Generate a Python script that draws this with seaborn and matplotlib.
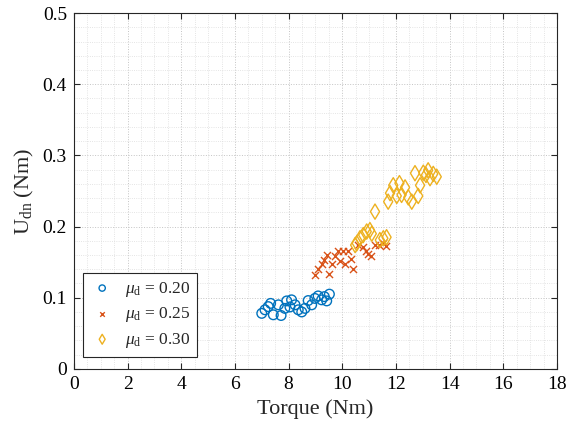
import numpy as np
import pandas as pd
import matplotlib
matplotlib.use("Agg")
from matplotlib import pyplot as plt
from matplotlib.ticker import MultipleLocator
import seaborn as sns

# mu_d = 0.20
torque_020 = [7.00, 7.12, 7.24, 7.33, 7.43, 7.62, 7.72, 7.86, 7.93, 8.11, 8.05, 8.24,
              8.36, 8.49, 8.61, 8.73, 8.86, 8.98, 9.10, 9.23, 9.33, 9.42, 9.52]
udn_020 = [0.078, 0.083, 0.0875, 0.092, 0.076, 0.090, 0.075, 0.085, 0.0955, 0.097, 0.087, 0.090,
           0.083, 0.080, 0.085, 0.096, 0.090, 0.099, 0.1025, 0.097, 0.1015, 0.0955, 0.105]

# mu_d = 0.25
torque_025 = [8.98, 9.10, 9.23, 9.32, 9.42, 9.52, 9.63, 9.73, 9.83, 9.91, 10.04, 10.12,
              10.22, 10.32, 10.41, 10.60, 10.78, 10.88, 10.97, 11.06, 11.22, 11.38, 11.50, 11.63]
udn_025 = [0.132, 0.140, 0.147, 0.153, 0.1597, 0.134, 0.148, 0.1587, 0.166, 0.151, 0.165, 0.1475,
           0.165, 0.154, 0.140, 0.174, 0.171, 0.166, 0.1615, 0.158, 0.174, 0.174, 0.1765, 0.173]

# mu_d = 0.30
torque_030 = [10.48, 10.54, 10.66, 10.78, 10.91, 11.03, 11.10, 11.22, 11.40, 11.53, 11.65, 11.71,
              11.78, 11.90, 12.03, 12.13, 12.21, 12.34, 12.46, 12.59, 12.71, 12.83, 12.90, 13.02,
              13.12, 13.20, 13.27, 13.39, 13.52]
udn_030 = [0.174, 0.1765, 0.1835, 0.188, 0.193, 0.195, 0.190, 0.221, 0.181, 0.1835, 0.185, 0.235,
           0.247, 0.258, 0.243, 0.261, 0.2445, 0.255, 0.241, 0.235, 0.275, 0.243, 0.258, 0.2757,
           0.2725, 0.279, 0.268, 0.274, 0.270]

sns.set_style("ticks")
plt.rcParams['font.family'] = ['Liberation Serif', 'DejaVu Serif']
plt.rcParams['mathtext.fontset'] = 'custom'
plt.rcParams['mathtext.rm'] = 'Liberation Serif'
plt.rcParams['mathtext.it'] = 'Liberation Serif:italic'

fig = plt.figure(figsize=(5.73, 4.23), dpi=100)
ax = fig.add_axes([0.129, 0.128, 0.843, 0.841])

blue, red, orange = '#0072BD', '#D95319', '#EDB120'

sns.scatterplot(x=torque_020, y=udn_020, marker='o', s=48, facecolors='none',
                edgecolor=blue, linewidth=1.0, label=r'$\mu_\mathrm{d}$ = 0.20', ax=ax)
sns.scatterplot(x=torque_025, y=udn_025, marker='x', s=26, color=red,
                linewidth=1.0, label=r'$\mu_\mathrm{d}$ = 0.25', ax=ax)
sns.scatterplot(x=torque_030, y=udn_030, marker='d', s=60, facecolors='none',
                edgecolor=orange, linewidth=1.0, label=r'$\mu_\mathrm{d}$ = 0.30', ax=ax)

ax.set_xlim(0, 18)
ax.set_ylim(0, 0.5)
ax.xaxis.set_major_locator(MultipleLocator(2))
ax.xaxis.set_minor_locator(MultipleLocator(0.5))
ax.yaxis.set_major_locator(MultipleLocator(0.1))
ax.yaxis.set_minor_locator(MultipleLocator(0.02))
ax.set_yticks([0, 0.1, 0.2, 0.3, 0.4, 0.5])
ax.set_yticklabels(['0', '0.1', '0.2', '0.3', '0.4', '0.5'])

ax.grid(which='major', color='#c4c4c4', linestyle=':', linewidth=0.7)
ax.grid(which='minor', color='#dcdcdc', linestyle=':', linewidth=0.6)
ax.set_axisbelow(True)
ax.tick_params(which='major', direction='in', length=4, width=0.8, labelsize=14,
               top=True, right=True, colors='#262626', pad=5)
ax.tick_params(which='minor', length=0)
ax.tick_params(labelcolor='black')
for sp in ax.spines.values():
    sp.set_visible(True)
    sp.set_color('#262626')
    sp.set_linewidth(0.8)

ax.set_xlabel('Torque (Nm)', fontsize=16, labelpad=5)
ax.set_ylabel(r'U$_\mathrm{dn}$ (Nm)', fontsize=16, labelpad=5)

leg = ax.legend(loc='lower left', fontsize=12.5, frameon=True, fancybox=False,
                edgecolor='#262626', framealpha=1, markerscale=0.65, handletextpad=0.6,
                handlelength=1.4, borderpad=0.4, labelspacing=0.38, borderaxespad=0,
                bbox_to_anchor=(0.019, 0.034))
leg.get_frame().set_linewidth(0.8)

fig.savefig('out.png', dpi=100)
